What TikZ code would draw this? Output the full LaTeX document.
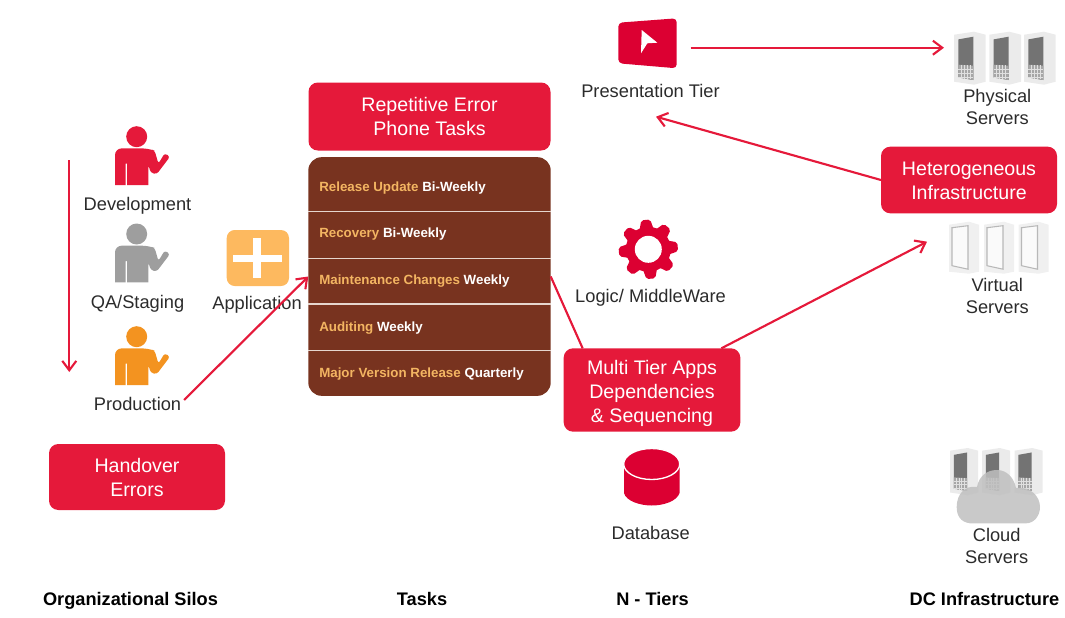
\documentclass[tikz,border=0pt]{standalone}
\usepackage{fontspec}
\setmainfont{Liberation Sans}
\usepackage{xcolor}
\usetikzlibrary{positioning,calc,arrows.meta}

\definecolor{redbox}{HTML}{E5193A}
\definecolor{redicon}{HTML}{DC0032}
\definecolor{brownbox}{HTML}{78331F}
\definecolor{goldtext}{HTML}{F3B562}
\definecolor{rowline}{HTML}{E6D6CE}
\definecolor{appicon}{HTML}{FDB95F}
\definecolor{orangeman}{HTML}{F39320}
\definecolor{greyman}{HTML}{9E9E9E}
\definecolor{darktext}{HTML}{2B2B2B}

\tikzset{
    flow/.style={draw=redbox, line width=1.6pt, -{Straight Barb[length=7pt,width=10.5pt]}},
    redlabel/.style={rectangle, rounded corners=7pt, fill=redbox, text=white, align=center, inner sep=0pt, outer sep=0pt,
        font=\fontsize{14.7}{18}\selectfont},
    tierlabel/.style={align=center, inner sep=2pt, text=darktext, font=\fontsize{13.7}{16.5}\selectfont},
    columnlabel/.style={inner sep=0pt, text=black, font=\fontsize{13.65}{16}\selectfont\bfseries},
    taskrow/.style={anchor=west, inner sep=0pt, text height=8pt, text depth=2pt, text=white, font=\fontsize{10}{12}\selectfont\bfseries},
    pics/man/.style={code={
        \fill[#1] (0,0) circle (10.5);
        \fill[#1] (-21.7,48.3) [rounded corners=5pt] -- (-21.7,11.7) -- (12,11.7) [rounded corners=2pt] -- (18,14) -- (21.7,27)
            -- (28,16.5) -- (33.3,20) -- (20,37.5) -- (14,36) -- (11.7,28.3) [sharp corners] -- (11.7,48.3) -- (-9.5,48.3)
            -- (-9.5,27) -- (-11,27) -- (-11,48.3) -- cycle;
    }},
    pics/server/.style={code={
        \fill[black!8] (0,3) -- (20,0) -- (31.7,3) -- (31.7,50) -- (20,53) -- (0,50) -- cycle;
        \fill[black!55] (4.3,7.7) -- (19.3,5) -- (19.3,48.3) -- (4.3,45.7) -- cycle;
        \fill[black!35] (4.3,33) -- (19.3,34) -- (19.3,48.3) -- (4.3,45.7) -- cycle;
        \foreach \t in {7,10,13,16}
            \draw[black!12, line width=0.3pt] (\t,33.3) -- (\t,47.3);
        \foreach \t in {37,41,45}
            \draw[black!12, line width=0.3pt] (4.3,\t) -- (19.3,\t);
    }},
    pics/vserver/.style={code={
        \fill[black!6] (0,3) -- (20,0) -- (30,3) -- (30,50) -- (20,52) -- (0,50) -- cycle;
        \fill[black!2] (3,6) -- (19,4) -- (19,47.5) -- (3,44) -- cycle;
        \draw[black!28, line width=0.8pt] (3,6) -- (19,4) -- (19,47.5) -- (3,44) -- cycle;
    }}
}

\begin{document}
\begin{tikzpicture}[x=0.75pt, y=-0.75pt]
    \useasboundingbox (0,0) rectangle (1065,618);

    % Organizational Silos
    \foreach \c/\y in {redbox/136.7, greyman/234, orangeman/336.7}
        \pic at (136.7,\y) {man=\c};
    \node[tierlabel] (Ldev) at (137.5,205.5) {Development};
    \node[tierlabel] (Lqa) at (137.5,304) {QA/Staging};
    \node[tierlabel] (Lprod) at (137.5,404) {Production};
    \node[redlabel, minimum width=132pt, minimum height=49.5pt] (handover) at (137,477) {Handover\\Errors};

    \coordinate (silostop) at (69.3,160);
    \coordinate (silosend) at (69.3,372);
    \draw[flow] (silostop) -- (silosend);

    % Application
    \fill[appicon, rounded corners=6pt] (226.7,230) rectangle (289,286);
    \fill[white] (232.7,255) rectangle (281.7,262.3);
    \fill[white] (252.7,237.7) rectangle (261,278.3);
    \node[tierlabel] (Lapp) at (257,305) {Application};

    % Tasks
    \node[redlabel, minimum width=181.5pt, minimum height=51pt] (repetitive) at (429.5,116.5) {Repetitive Error\\Phone Tasks};
    \node[rectangle, rounded corners=10pt, fill=brownbox, minimum width=181.8pt, minimum height=179pt, inner sep=0pt, outer sep=0pt]
        (taskpanel) at (429.5,276.5) {};
    \foreach \y in {211.7,258.3,304,350.3}
        \draw[rowline, line width=0.8pt] (taskpanel.west |- 0,\y) -- (taskpanel.east |- 0,\y);
    \node[taskrow] (T1) at (319,187.5) {\textcolor{goldtext}{Release Update} Bi-Weekly};
    \node[taskrow] (T2) at (319,233.5) {\textcolor{goldtext}{Recovery} Bi-Weekly};
    \node[taskrow] (T3) at (319,280.5) {\textcolor{goldtext}{Maintenance Changes} Weekly};
    \node[taskrow] (T4) at (319,327.5) {\textcolor{goldtext}{Auditing} Weekly};
    \node[taskrow] (T5) at (319,373.5) {\textcolor{goldtext}{Major Version Release} Quarterly};

    % N - Tiers
    \fill[redicon, rounded corners=3pt] (618.3,22.7) -- (676.7,18.3) -- (676.7,68.3) -- (618.3,63.3) -- cycle;
    \fill[white] (641.7,30) -- (657.3,42.7) -- (647.3,43.3) -- (641,53.3) -- cycle;
    \node[tierlabel] (Lpresent) at (650.5,91) {Presentation Tier};

    \begin{scope}[shift={(648.3,249.3)}]
        \foreach \a in {0,45,...,315}
            \fill[redicon, rotate=\a+5, rounded corners=1.5pt] (-4.5,-29.5) -- (4.5,-29.5) -- (7.5,-18) -- (-7.5,-18) -- cycle;
        \fill[redicon] (0,0) circle (22.5);
        \fill[white] (0,0) circle (13.5);
    \end{scope}
    \node[tierlabel] (Llogic) at (650.5,297.5) {Logic/ MiddleWare};

    \node[redlabel, minimum width=132.5pt, minimum height=62.5pt] (multitier) at (652,390) {\rule{0pt}{15.1pt}Multi Tier Apps\\Dependencies\\\& Sequencing};

    \fill[redicon] (624,464) -- (624,493) .. controls (626,501) and (640,505.5) .. (651.7,505.5)
        .. controls (664,505.5) and (677,501) .. (679.5,493) -- (679.5,464) -- cycle;
    \fill[redicon, draw=white, line width=1pt] (651.7,464) ellipse (28 and 15.5);
    \node[tierlabel] (Ldb) at (650.7,532.7) {Database};

    % DC Infrastructure
    \foreach \x in {954,989.3,1024}
        \pic at (\x,31.7) {server};
    \node[tierlabel] (Lphys) at (997.3,106.7) {Physical\\Servers};

    \node[redlabel, minimum width=132pt, minimum height=50pt] (hetero) at (969,180) {\rule{0pt}{12.1pt}Heterogeneous\\Infrastructure};

    \foreach \x in {949,984,1018.5}
        \pic at (\x,221.7) {vserver};
    \node[tierlabel] (Lvirt) at (997.3,296) {Virtual\\Servers};

    \foreach \x in {950,982,1014.5}
        \pic[scale=0.89] at (\x,448) {server};
    \fill[black!25, opacity=0.85] (970,523.3) .. controls (960,522) and (956.7,515) .. (956.7,507)
        .. controls (956.7,494) and (965,485) .. (977,487) .. controls (979,476) and (987,470) .. (997,470)
        .. controls (1007,470) and (1014,478) .. (1016,488) .. controls (1030,486) and (1040,496) .. (1040,507)
        .. controls (1040,516) and (1034,523.3) .. (1026,523.3) -- cycle;
    \node[tierlabel] (Lcloud) at (996.7,546) {Cloud\\Servers};

    % Connections
    \coordinate (presentout) at (690.7,47.7);
    \coordinate (physin) at (944,47.7);
    \coordinate (presentin) at (656,116.7);
    \coordinate (virtin) at (927,241.7);

    \draw[flow] (Lprod.5) -- (taskpanel.west);
    \draw[draw=redbox, line width=1.6pt] (taskpanel.east) -- (multitier.149);
    \draw[flow] (multitier.31) -- (virtin);
    \draw[flow] (presentout) -- (physin);
    \draw[flow] (hetero.west) -- (presentin);

    % Column titles
    \node[columnlabel] (C1) at (130.5,601) {Organizational Silos};
    \node[columnlabel] (C2) at (422,599) {Tasks};
    \node[columnlabel] (C3) at (652.5,599) {N - Tiers};
    \node[columnlabel] (C4) at (984.5,599) {DC Infrastructure};
\end{tikzpicture}
\end{document}
